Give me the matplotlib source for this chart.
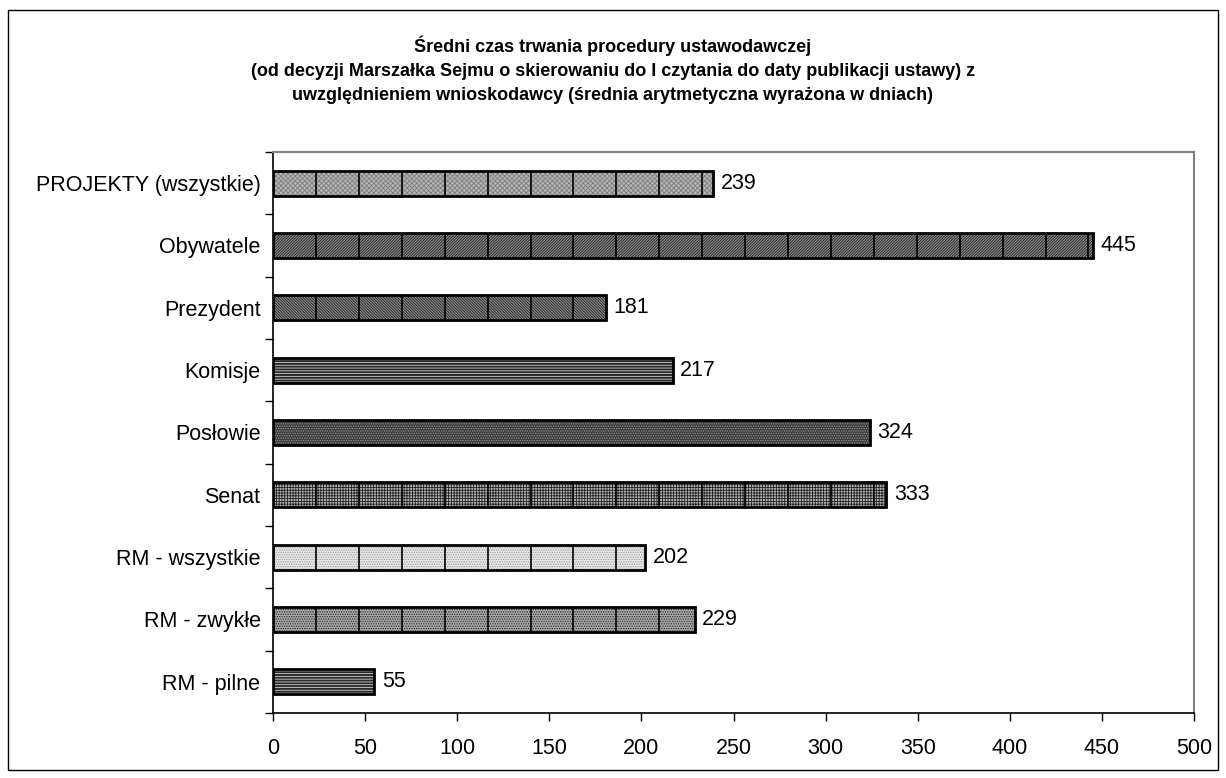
import numpy as np
import matplotlib.pyplot as plt
from matplotlib.patches import Rectangle

plt.rcParams['font.family'] = ['Liberation Sans', 'DejaVu Sans']
plt.rcParams['hatch.linewidth'] = 0.6

# average duration in days, by who submitted the bill
categories = ['PROJEKTY (wszystkie)', 'Obywatele', 'Prezydent', 'Komisje',
              'Posłowie', 'Senat', 'RM - wszystkie', 'RM - zwykłe', 'RM - pilne']
days = [239, 445, 181, 217, 324, 333, 202, 229, 55]
xticks = [0, 50, 100, 150, 200, 250, 300, 350, 400, 450, 500]

# fill texture per bar: (base colour, hatch, hatch colour, tiled seams)
fills = [
    ('#b4b4b4', 'xxxxxxx', '#808080', True),
    ('#8c8c8c', '////////////', '#222222', True),
    ('#8c8c8c', '\\\\\\\\\\\\\\\\\\\\\\\\', '#222222', True),
    ('#2a2a2a', '------', '#d0d0d0', False),
    ('#3a3a3a', '.......', '#9a9a9a', False),
    ('#b4b4b4', '++++++', '#222222', True),
    ('#e6e6e6', '.......', '#a0a0a0', True),
    ('#a8a8a8', '.......', '#222222', True),
    ('#2a2a2a', '------', '#d0d0d0', False),
]

fig = plt.figure(figsize=(12.26, 7.78), dpi=100)
fig.patches.append(Rectangle((8 / 1226, 1 - 770 / 778), 1210 / 1226, 760 / 778,
                             transform=fig.transFigure, fill=False,
                             edgecolor='black', linewidth=1))

ax = fig.add_axes([273 / 1226, 1 - 713 / 778, 921 / 1226, 561 / 778])
y = np.arange(len(categories))
bh = 0.4

for i, (v, (base, hatch, hcol, seams)) in enumerate(zip(days, fills)):
    fill = ax.barh(y[i], v, height=bh, color=base, hatch=hatch,
                   edgecolor=hcol, linewidth=0)[0]
    ax.barh(y[i], v, height=bh, fill=False, edgecolor='black', linewidth=2)
    if seams:
        for sx in np.arange(23.3, v, 23.3):
            ln, = ax.plot([sx, sx], [y[i] - bh / 2, y[i] + bh / 2],
                          color='black', linewidth=1.2)
            ln.set_clip_path(fill)
    ax.text(v + 4, y[i], str(v), va='center', ha='left', fontsize=15.5)

ax.set_xlim(0, 500)
ax.set_ylim(len(categories) - 0.5, -0.5)
ax.set_xticks(xticks)
ax.set_xticklabels([str(t) for t in xticks], fontsize=15.5)
ax.set_yticks(y)
ax.set_yticklabels(categories, fontsize=15.5)
ax.set_yticks(np.arange(-0.5, len(categories)), minor=True)
ax.tick_params(axis='y', which='major', length=0, pad=9)
ax.tick_params(axis='y', which='minor', length=6, width=1, direction='out')
ax.tick_params(axis='x', length=6, width=1, direction='out', pad=12)

for s in ['top', 'right']:
    ax.spines[s].set_color('#808080')
    ax.spines[s].set_linewidth(1.5)
for s in ['left', 'bottom']:
    ax.spines[s].set_color('black')
    ax.spines[s].set_linewidth(1.2)

fig.text(0.5, 1 - 70 / 778,
         'Średni czas trwania procedury ustawodawczej\n'
         '(od decyzji Marszałka Sejmu o skierowaniu do I czytania do daty publikacji ustawy) z\n'
         'uwzględnieniem wnioskodawcy (średnia arytmetyczna wyrażona w dniach)',
         ha='center', va='center', fontsize=13, fontweight='bold',
         linespacing=1.55)

fig.savefig('out.png', dpi=100)
